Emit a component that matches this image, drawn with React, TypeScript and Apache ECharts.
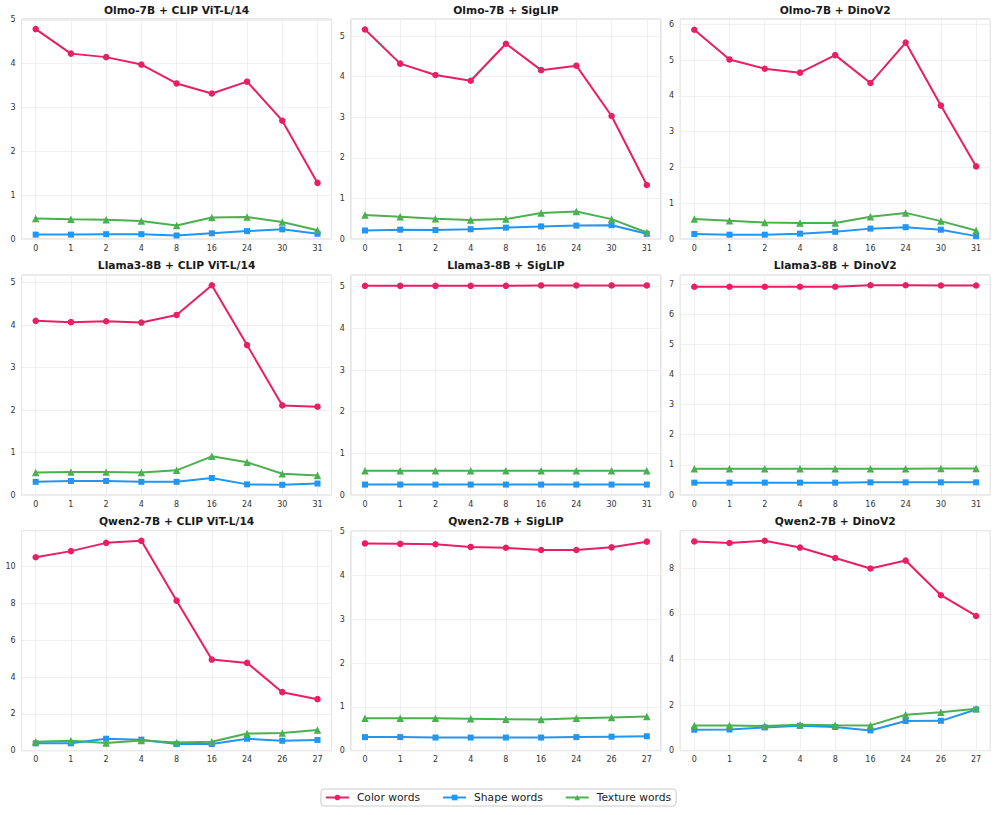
import React, { useEffect, useRef } from "react";
import * as echarts from "echarts";

// ---------- data ----------
const layersOlmoLlama = ["0", "1", "2", "4", "8", "16", "24", "30", "31"];
const layersQwen = ["0", "1", "2", "4", "8", "16", "24", "26", "27"];

const seriesNames = ["Color words", "Shape words", "Texture words"];

const panelTitles = [
  "Olmo-7B + CLIP ViT-L/14",
  "Olmo-7B + SigLIP",
  "Olmo-7B + DinoV2",
  "Llama3-8B + CLIP ViT-L/14",
  "Llama3-8B + SigLIP",
  "Llama3-8B + DinoV2",
  "Qwen2-7B + CLIP ViT-L/14",
  "Qwen2-7B + SigLIP",
  "Qwen2-7B + DinoV2",
];

// Olmo-7B
const olmoClipColor = [4.79, 4.23, 4.15, 3.98, 3.55, 3.32, 3.59, 2.7, 1.28];
const olmoClipShape = [0.1, 0.1, 0.11, 0.11, 0.08, 0.13, 0.18, 0.22, 0.12];
const olmoClipTexture = [0.47, 0.45, 0.44, 0.41, 0.31, 0.49, 0.5, 0.39, 0.2];

const olmoSiglipColor = [5.16, 4.32, 4.04, 3.9, 4.81, 4.16, 4.27, 3.03, 1.33];
const olmoSiglipShape = [0.21, 0.23, 0.22, 0.24, 0.28, 0.31, 0.33, 0.34, 0.13];
const olmoSiglipTexture = [0.59, 0.55, 0.5, 0.47, 0.49, 0.64, 0.68, 0.49, 0.16];

const olmoDinoColor = [5.85, 5.02, 4.76, 4.65, 5.14, 4.36, 5.49, 3.73, 2.03];
const olmoDinoShape = [0.14, 0.12, 0.12, 0.15, 0.2, 0.29, 0.33, 0.26, 0.08];
const olmoDinoTexture = [0.56, 0.51, 0.46, 0.45, 0.45, 0.62, 0.73, 0.5, 0.24];

// Llama3-8B
const llamaClipColor = [4.1, 4.07, 4.09, 4.06, 4.24, 4.94, 3.53, 2.11, 2.08];
const llamaClipShape = [0.31, 0.33, 0.33, 0.31, 0.31, 0.4, 0.25, 0.24, 0.27];
const llamaClipTexture = [0.53, 0.54, 0.54, 0.53, 0.58, 0.91, 0.77, 0.5, 0.46];

const llamaSiglipColor = [5.02, 5.02, 5.02, 5.02, 5.02, 5.03, 5.03, 5.03, 5.03];
const llamaSiglipShape = [0.25, 0.25, 0.25, 0.25, 0.25, 0.25, 0.25, 0.25, 0.25];
const llamaSiglipTexture = [0.58, 0.58, 0.58, 0.58, 0.58, 0.58, 0.58, 0.58, 0.58];

const llamaDinoColor = [6.91, 6.91, 6.91, 6.91, 6.91, 6.96, 6.96, 6.95, 6.95];
const llamaDinoShape = [0.41, 0.41, 0.41, 0.41, 0.41, 0.42, 0.42, 0.42, 0.42];
const llamaDinoTexture = [0.87, 0.87, 0.87, 0.87, 0.87, 0.87, 0.87, 0.88, 0.88];

// Qwen2-7B
const qwenClipColor = [10.51, 10.84, 11.29, 11.4, 8.15, 4.95, 4.77, 3.18, 2.8];
const qwenClipShape = [0.4, 0.4, 0.65, 0.6, 0.36, 0.36, 0.65, 0.54, 0.58];
const qwenClipTexture = [0.49, 0.54, 0.42, 0.56, 0.45, 0.49, 0.93, 0.96, 1.13];

const qwenSiglipColor = [4.73, 4.72, 4.71, 4.65, 4.63, 4.58, 4.58, 4.64, 4.77];
const qwenSiglipShape = [0.31, 0.31, 0.3, 0.3, 0.3, 0.3, 0.31, 0.32, 0.33];
const qwenSiglipTexture = [0.74, 0.74, 0.74, 0.73, 0.72, 0.71, 0.74, 0.76, 0.78];

const qwenDinoColor = [9.18, 9.11, 9.21, 8.91, 8.45, 7.99, 8.34, 6.82, 5.91];
const qwenDinoShape = [0.92, 0.93, 1.02, 1.09, 1.04, 0.89, 1.3, 1.31, 1.81];
const qwenDinoTexture = [1.11, 1.11, 1.08, 1.14, 1.12, 1.11, 1.58, 1.69, 1.84];

// axis ranges
const yAxisMax = [5.02, 5.42, 6.15, 5.18, 5.28, 7.3, 11.95, 5.02, 9.65];
const yTickSteps = [1, 1, 1, 1, 1, 1, 2, 1, 2];

// ---------- build ----------
const panelData = [
  [olmoClipColor, olmoClipShape, olmoClipTexture],
  [olmoSiglipColor, olmoSiglipShape, olmoSiglipTexture],
  [olmoDinoColor, olmoDinoShape, olmoDinoTexture],
  [llamaClipColor, llamaClipShape, llamaClipTexture],
  [llamaSiglipColor, llamaSiglipShape, llamaSiglipTexture],
  [llamaDinoColor, llamaDinoShape, llamaDinoTexture],
  [qwenClipColor, qwenClipShape, qwenClipTexture],
  [qwenSiglipColor, qwenSiglipShape, qwenSiglipTexture],
  [qwenDinoColor, qwenDinoShape, qwenDinoTexture],
];
const panelLayers = [
  layersOlmoLlama, layersOlmoLlama, layersOlmoLlama,
  layersOlmoLlama, layersOlmoLlama, layersOlmoLlama,
  layersQwen, layersQwen, layersQwen,
];

const COLORS = ["#E91E63", "#2196F3", "#4CAF50"];
const SYMBOLS = ["circle", "rect", "triangle"];
const SYMBOL_SIZES = [6.5, 6, 7.5];
const FONT = "'DejaVu Sans', 'Liberation Sans', sans-serif";

const COL_LEFT = [21.6, 350.9, 680.2];
const ROW_TOP = [19, 275, 530.7];
const PW = 310;
const PH = 220;
const TITLE_Y = [10, 265, 521.7];

function buildOption() {
  const grid: any[] = [];
  const xAxis: any[] = [];
  const yAxis: any[] = [];
  const series: any[] = [];
  const graphic: any[] = [];

  panelData.forEach((arrs, p) => {
    const r = Math.floor(p / 3);
    const c = p % 3;
    const step = yTickSteps[p];
    const labels = panelLayers[p];

    grid.push({
      left: COL_LEFT[c],
      top: ROW_TOP[r],
      width: PW,
      height: PH,
      show: true,
      borderColor: "#d4d4d4",
      borderWidth: 1,
      backgroundColor: "#ffffff",
    });
    xAxis.push({
      type: "value",
      gridIndex: p,
      min: -0.4,
      max: 8.4,
      minInterval: 1,
      maxInterval: 1,
      splitNumber: 9,
      axisLine: { show: false },
      axisTick: { show: false },
      axisLabel: {
        margin: 5,
        fontSize: 8,
        color: "#333333",
        fontFamily: FONT,
        showMinLabel: true,
        showMaxLabel: true,
        formatter: (v: number) => {
          const i = Math.round(v);
          if (Math.abs(v - i) > 1e-6 || i < 0 || i >= labels.length) return "";
          return labels[i];
        },
      },
      splitLine: { show: true, lineStyle: { color: "#ececec", width: 0.8 } },
    });
    yAxis.push({
      type: "value",
      gridIndex: p,
      min: 0,
      max: yAxisMax[p],
      minInterval: step,
      maxInterval: step,
      axisLine: { show: false },
      axisTick: { show: false },
      axisLabel: {
        margin: 6,
        fontSize: 8,
        color: "#333333",
        fontFamily: FONT,
        formatter: (v: number) => {
          const k = v / step;
          if (Math.abs(k - Math.round(k)) > 1e-6) return "";
          return String(Math.round(v));
        },
      },
      splitLine: { show: true, lineStyle: { color: "#ececec", width: 0.8 } },
    });
    arrs.forEach((vals, s) => {
      series.push({
        name: seriesNames[s],
        type: "line",
        xAxisIndex: p,
        yAxisIndex: p,
        data: vals.map((v, i) => [i, v]),
        symbol: SYMBOLS[s],
        symbolSize: SYMBOL_SIZES[s],
        showAllSymbol: true,
        lineStyle: { color: COLORS[s], width: 2 },
        itemStyle: { color: COLORS[s] },
        z: 2 + s,
      });
    });
    graphic.push({
      type: "text",
      x: COL_LEFT[c] + PW / 2,
      y: TITLE_Y[r],
      style: {
        text: panelTitles[p],
        textAlign: "center",
        textVerticalAlign: "middle",
        fontFamily: FONT,
        fontWeight: "bold",
        fontSize: 10.7,
        fill: "#1a1a1a",
      },
    });
  });

  return {
    animation: false,
    backgroundColor: "#ffffff",
    grid,
    xAxis,
    yAxis,
    series,
    graphic,
    legend: {
      data: seriesNames,
      left: "center",
      top: 789,
      orient: "horizontal",
      itemWidth: 23,
      itemHeight: 7,
      itemGap: 22,
      padding: [3, 5, 3, 4],
      borderColor: "#cccccc",
      borderWidth: 1,
      borderRadius: 3,
      backgroundColor: "#ffffff",
      textStyle: {
        fontFamily: FONT,
        fontSize: 10.7,
        color: "#222222",
        padding: [0, 0, 0, 3],
      },
    },
  };
}

export default function App() {
  const ref = useRef<HTMLDivElement>(null);
  useEffect(() => {
    if (!ref.current) return;
    const chart = echarts.init(ref.current, undefined, { renderer: "svg" });
    chart.setOption(buildOption() as any);
    return () => chart.dispose();
  }, []);
  return (
    <div
      ref={ref}
      style={{ position: "fixed", left: 0, top: 0, width: 996, height: 815, background: "#fff" }}
    />
  );
}
